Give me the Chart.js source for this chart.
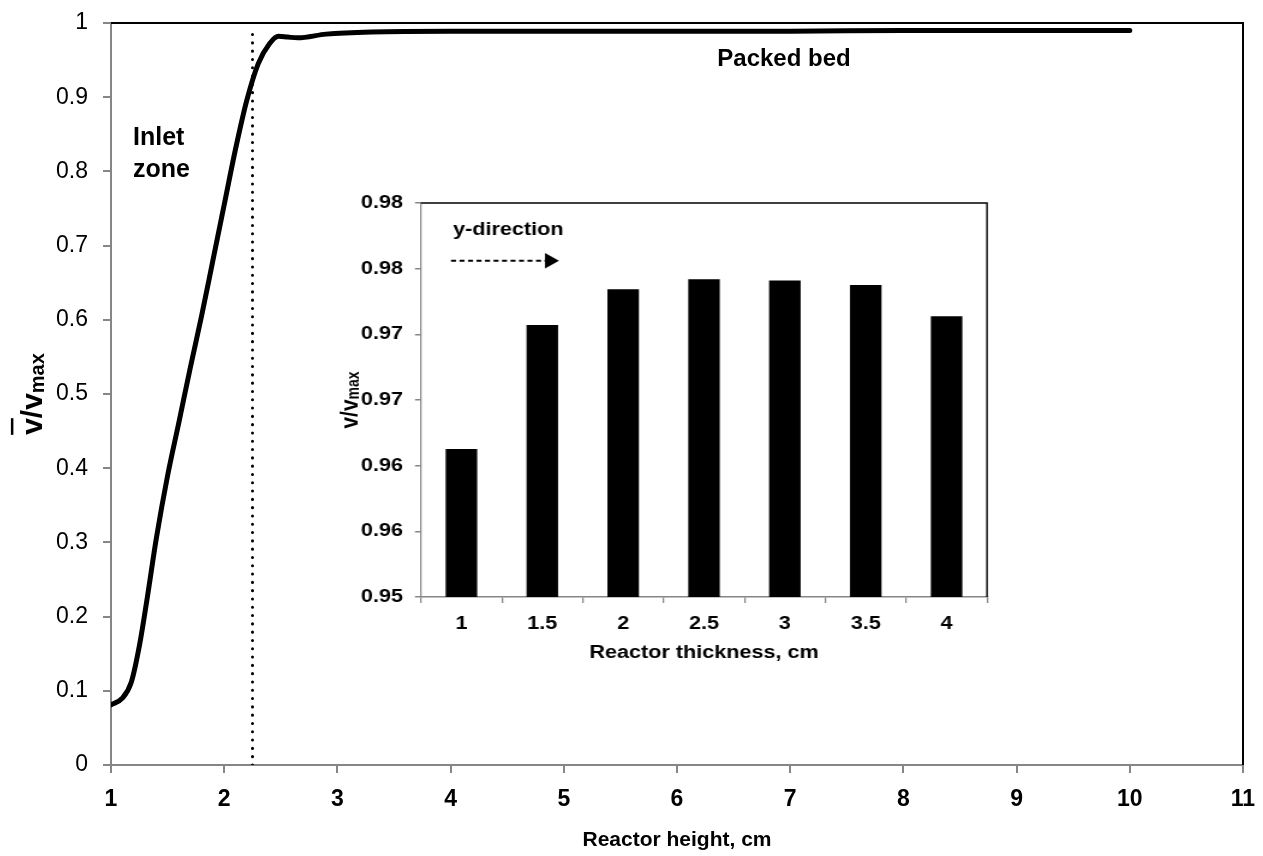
<!DOCTYPE html>
<html><head><meta charset="utf-8">
<script src="https://cdn.jsdelivr.net/npm/chart.js@4"></script>
<style>
html,body{margin:0;padding:0;background:#fff;}
#wrap{position:relative;width:1263px;height:856px;background:#fff;}
#main{position:absolute;left:0;top:0;}
#inset{position:absolute;left:330px;top:190px;width:670px;height:485px;}
</style></head><body>
<div id="wrap">
<canvas id="main" width="1263" height="856"></canvas>
<canvas id="inset" width="558" height="485" style="width:670px;height:485px"></canvas>
</div>
<script>
// ---- main chart data ----
const heightX = [1.00, 1.10, 1.18, 1.25, 1.32, 1.40, 1.50, 1.60, 1.70, 1.80, 1.90, 2.00, 2.10, 2.20, 2.30, 2.40, 2.48, 2.56, 2.65, 2.90, 3.30, 4.00, 5.00, 6.00, 7.00, 8.00, 9.00, 10.00];
const velocityY = [0.081, 0.090, 0.112, 0.160, 0.225, 0.305, 0.390, 0.462, 0.535, 0.605, 0.680, 0.755, 0.830, 0.896, 0.945, 0.972, 0.982, 0.981, 0.980, 0.985, 0.988, 0.989, 0.989, 0.989, 0.989, 0.990, 0.990, 0.990];
const boundaryX = [2.25, 2.25];
const boundaryY = [0, 0.99];
const xTickLabels = ['1','2','3','4','5','6','7','8','9','10','11'];
const yTickLabels = ['0','0.1','0.2','0.3','0.4','0.5','0.6','0.7','0.8','0.9','1'];
const zoneLabels = ['Inlet', 'zone'];
const bedLabel = 'Packed bed';
// ---- inset data ----
const thicknessCats = ['1','1.5','2','2.5','3','3.5','4'];
const thicknessVals = [0.96127, 0.97071, 0.97343, 0.97419, 0.97409, 0.97376, 0.97137];
const insetTickLabels = ['0.95','0.96','0.96','0.97','0.97','0.98','0.98'];
const directionLabel = 'y-direction';

const FAM = "'Liberation Sans', Arial, sans-serif";
Chart.defaults.font.family = FAM;
Chart.defaults.color = '#000';
const AXIS = '#868686';
const SX = 670 / 558; // horizontal stretch of the inset canvas

function noPad(s) { s.paddingLeft = 0; s.paddingRight = 0; s.paddingTop = 0; s.paddingBottom = 0; }

function drawRotatedRatio(ctx, x0, cy, size, subSize, subDrop, overline) {
  ctx.save();
  ctx.translate(0, cy);
  ctx.rotate(-Math.PI / 2);
  ctx.fillStyle = '#000';
  ctx.textBaseline = 'alphabetic';
  ctx.textAlign = 'left';
  ctx.font = 'bold ' + size + 'px ' + FAM;
  const wv = ctx.measureText('v').width;
  const ws = ctx.measureText('/').width;
  ctx.font = 'bold ' + subSize + 'px ' + FAM;
  const wm = ctx.measureText('max').width;
  const total = wv * 2 + ws + wm;
  let x = -total / 2;
  ctx.font = 'bold ' + size + 'px ' + FAM;
  ctx.fillText('v', x, x0);
  if (overline) {
    ctx.fillRect(x, x0 - size * 0.52 - overline - 2.5, wv, 2.5);
  }
  x += wv;
  ctx.fillText('/', x, x0); x += ws;
  ctx.fillText('v', x, x0); x += wv;
  ctx.font = 'bold ' + subSize + 'px ' + FAM;
  ctx.fillText('max', x, x0 + subDrop);
  ctx.restore();
}

const mainDeco = {
  id: 'mainDeco',
  afterDraw(chart) {
    const {ctx, chartArea: a} = chart;
    ctx.save();
    ctx.strokeStyle = '#000';
    ctx.lineWidth = 2;
    ctx.beginPath();
    ctx.moveTo(a.left, a.top);
    ctx.lineTo(a.right, a.top);
    ctx.lineTo(a.right, a.bottom);
    ctx.stroke();
    ctx.fillStyle = '#000';
    ctx.font = 'bold 25px ' + FAM;
    ctx.textAlign = 'left';
    ctx.textBaseline = 'alphabetic';
    ctx.fillText(zoneLabels[0], 133, 145);
    ctx.fillText(zoneLabels[1], 133, 177);
    ctx.font = 'bold 24px ' + FAM;
    ctx.textAlign = 'center';
    ctx.fillText(bedLabel, 784, 66);
    ctx.restore();
    drawRotatedRatio(ctx, 42, 394, 30, 20, 2, 13);
  }
};

new Chart(document.getElementById('main'), {
  type: 'scatter',
  data: {
    datasets: [
      { data: heightX.map((x, i) => ({x: x, y: velocityY[i]})), showLine: true, borderColor: '#000', borderWidth: 5,
        pointRadius: 0, cubicInterpolationMode: 'monotone', borderCapStyle: 'round', borderJoinStyle: 'round' },
      { data: boundaryX.map((x, i) => ({x: x, y: boundaryY[i]})), showLine: true, borderColor: '#000', borderWidth: 3,
        borderDash: [0.1, 8.2], borderCapStyle: 'round', pointRadius: 0 }
    ]
  },
  options: {
    responsive: false, animation: false, devicePixelRatio: 1,
    layout: {padding: {left: 0, top: 23, right: 20, bottom: 0}},
    plugins: {legend: {display: false}, tooltip: {enabled: false}},
    scales: {
      x: {
        type: 'linear', min: 1, max: 11,
        ticks: {stepSize: 1, callback: (v, i) => xTickLabels[i], color: '#000', font: {size: 23, weight: 'bold'}, padding: 13, maxRotation: 0, autoSkip: false},
        grid: {drawOnChartArea: false, color: AXIS, lineWidth: 2, tickLength: 8, tickWidth: 2},
        border: {color: AXIS, width: 2},
        title: {display: true, text: 'Reactor height, cm', color: '#000', font: {size: 21, weight: 'bold'}, padding: {top: 0, bottom: 3}},
        afterFit: (s) => { s.height = 91; noPad(s); }
      },
      y: {
        type: 'linear', min: 0, max: 1,
        ticks: {stepSize: 0.1, callback: (v, i) => yTickLabels[i], color: '#000', font: {size: 23}, padding: 15, autoSkip: false},
        grid: {drawOnChartArea: false, color: AXIS, lineWidth: 2, tickLength: 8, tickWidth: 2},
        border: {color: AXIS, width: 2},
        afterFit: (s) => { s.width = 111; noPad(s); }
      }
    }
  },
  plugins: [mainDeco]
});

const insetDeco = {
  id: 'insetDeco',
  afterDraw(chart) {
    const {ctx, chartArea: a} = chart;
    ctx.save();
    ctx.strokeStyle = '#000';
    ctx.lineWidth = 1.4;
    ctx.beginPath();
    ctx.moveTo(a.left, a.top);
    ctx.lineTo(a.right, a.top);
    ctx.lineTo(a.right, a.bottom);
    ctx.stroke();
    ctx.fillStyle = '#000';
    ctx.font = 'bold 18px ' + FAM;
    ctx.textAlign = 'left';
    ctx.textBaseline = 'alphabetic';
    ctx.fillText(directionLabel, 123 / SX, 44.5);
    ctx.setLineDash([5 / SX, 3.5 / SX]);
    ctx.lineWidth = 2;
    ctx.beginPath();
    ctx.moveTo(121 / SX, 70.7);
    ctx.lineTo(216 / SX, 70.7);
    ctx.stroke();
    ctx.setLineDash([]);
    ctx.beginPath();
    ctx.moveTo(215 / SX, 63);
    ctx.lineTo(229 / SX, 70.7);
    ctx.lineTo(215 / SX, 78.4);
    ctx.closePath();
    ctx.fill();
    ctx.restore();
    drawRotatedRatio(ctx, 28 / SX, 210, 21, 14, 1, 0);
  }
};

new Chart(document.getElementById('inset'), {
  type: 'bar',
  data: {
    labels: thicknessCats,
    datasets: [{data: thicknessVals, backgroundColor: '#000', borderWidth: 0, barPercentage: 0.39, categoryPercentage: 1}]
  },
  options: {
    responsive: false, animation: false, devicePixelRatio: 1,
    layout: {padding: {left: 0, top: 13, right: 13 / SX, bottom: 0}},
    plugins: {legend: {display: false}, tooltip: {enabled: false}},
    scales: {
      x: {
        ticks: {color: '#000', font: {size: 18, weight: 'bold'}, padding: 10, maxRotation: 0, autoSkip: false},
        grid: {drawOnChartArea: false, offset: true, color: AXIS, lineWidth: 1.25, tickLength: 6, tickWidth: 1.25},
        border: {color: AXIS, width: 1.5},
        title: {display: true, text: 'Reactor thickness, cm', color: '#000', font: {size: 18, weight: 'bold'}, padding: {top: 0, bottom: 11}},
        afterFit: (s) => { s.height = 78; noPad(s); }
      },
      y: {
        min: 0.95, max: 0.98,
        ticks: {stepSize: 0.005, callback: (v, i) => insetTickLabels[i], color: '#000', font: {size: 18, weight: 'bold'}, padding: 12 / SX, autoSkip: false},
        grid: {drawOnChartArea: false, color: AXIS, lineWidth: 1.5, tickLength: 6 / SX, tickWidth: 1.5},
        border: {color: AXIS, width: 1.25},
        afterFit: (s) => { s.width = 91 / SX; noPad(s); }
      }
    }
  },
  plugins: [insetDeco]
});
</script>
</body></html>
